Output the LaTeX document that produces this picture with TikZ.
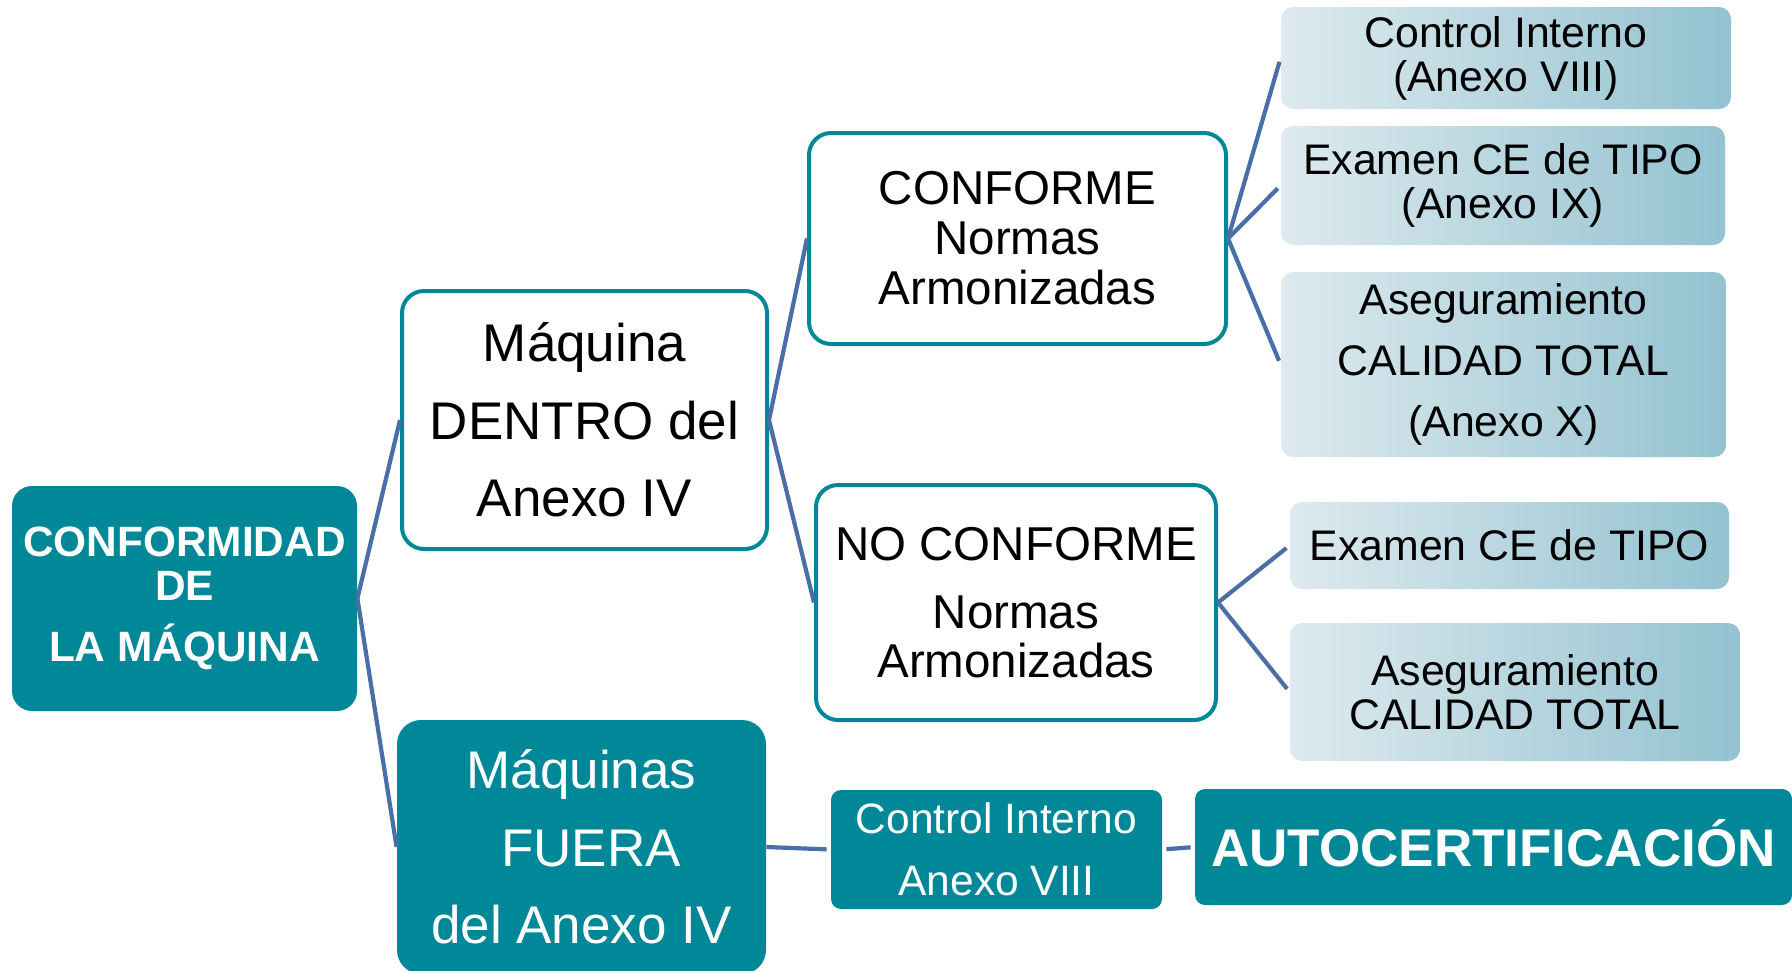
\documentclass[tikz,border=0pt]{standalone}
\usepackage{fontspec}
\setmainfont{Liberation Sans}
\usepackage{tikz}
\definecolor{boxteal}{HTML}{008798}
\definecolor{linkblue}{HTML}{4A6EA8}
\definecolor{paleleft}{HTML}{DEEAEF}
\definecolor{paleright}{HTML}{93C2D0}

\begin{document}
\begin{tikzpicture}[x=0.5pt, y=-0.5pt,
        solidbox/.style={fill=boxteal, text=white, rounded corners=10pt, align=center, inner sep=0pt},
        linebox/.style={draw=boxteal, line width=2pt, fill=white, rounded corners=11pt, align=center, inner sep=0pt},
        palebox/.style={left color=paleleft, right color=paleright, rounded corners=6pt, align=center, inner sep=0pt,
            font=\fontsize{21.4}{22}\selectfont},
        link/.style={draw=linkblue, line width=2.1pt}]
            \useasboundingbox (0, 0) rectangle (1792, 970);
            \node[solidbox, minimum width=172.5pt, minimum height=112.5pt, font=\bfseries\fontsize{21.2}{22}\selectfont]
                (maquina) at (184.5, 598.5) {CONFORMIDAD\\DE\\[8.5pt]LA MÁQUINA};
            \node[linebox, minimum width=182.5pt, minimum height=129pt, font=\fontsize{26.5}{38.75}\selectfont]
                (dentro) at (584.5, 420) {Máquina\\DENTRO del\\Anexo IV};
            \node[solidbox, rounded corners=12pt, minimum width=184.5pt, minimum height=127pt, font=\fontsize{26.5}{38.75}\selectfont]
                (fuera) at (581.5, 847) {Máquinas\\\hspace*{9.5pt}FUERA\\del Anexo IV};
            \node[linebox, minimum width=208.5pt, minimum height=105.5pt, font=\fontsize{23.75}{25}\selectfont]
                (conforme) at (1017.5, 238.5) {CONFORME\\Normas\\Armonizadas};
            \node[linebox, minimum width=200pt, minimum height=117.5pt, font=\fontsize{23.75}{24.5}\selectfont]
                (noconforme) at (1016, 602.5) {NO CONFORME\\[9.5pt]Normas\\Armonizadas};
            \node[solidbox, rounded corners=5pt, minimum width=165.5pt, minimum height=59.5pt, font=\fontsize{21.25}{31}\selectfont]
                (interno) at (996.5, 849.5) {Control Interno\\Anexo VIII};
            \node[solidbox, rounded corners=5pt, minimum width=298.5pt, minimum height=58pt, text height=19pt, text depth=0pt,
                font=\bfseries\fontsize{26.5}{30}\selectfont]
                (autocert) at (1493.5, 847) {AUTOCERTIFICACIÓN};
            \node[palebox, minimum width=225pt, minimum height=51pt]
                (internoviii) at (1506, 58) {Control Interno\\(Anexo VIII)};
            \node[palebox, minimum width=222pt, minimum height=59.5pt]
                (tipoix) at (1503, 185.5) {Examen CE de TIPO\\(Anexo IX)};
            \node[palebox, minimum width=222.5pt, minimum height=92.5pt, font=\fontsize{21.4}{30.5}\selectfont]
                (calidadx) at (1503.5, 364.5) {Aseguramiento\\CALIDAD TOTAL\\(Anexo X)};
            \node[palebox, minimum width=219.5pt, minimum height=43.5pt]
                (tipo) at (1509.5, 545.5) {Examen CE de TIPO};
            \node[palebox, minimum width=225pt, minimum height=69pt]
                (calidad) at (1515, 692) {Aseguramiento\\CALIDAD TOTAL};
            \draw[link] (maquina.east) -- (dentro.west);
            \draw[link] (maquina.east) -- (fuera.west);
            \draw[link] (dentro.east) -- (conforme.west);
            \draw[link] (dentro.east) -- (noconforme.west);
            \draw[link, shorten >=2pt] (conforme.east) -- (internoviii.west);
            \draw[link, shorten >=2pt] (conforme.east) -- (tipoix.west);
            \draw[link, shorten >=2pt] (conforme.east) -- (calidadx.west);
            \draw[link, shorten >=2pt] (noconforme.east) -- (tipo.west);
            \draw[link, shorten >=2pt] (noconforme.east) -- (calidad.west);
            \draw[link, shorten >=2pt] (fuera.east) -- (interno.west);
            \draw[link, shorten >=2pt, shorten <=2pt] (interno.east) -- (autocert.west);
\end{tikzpicture}
\end{document}
